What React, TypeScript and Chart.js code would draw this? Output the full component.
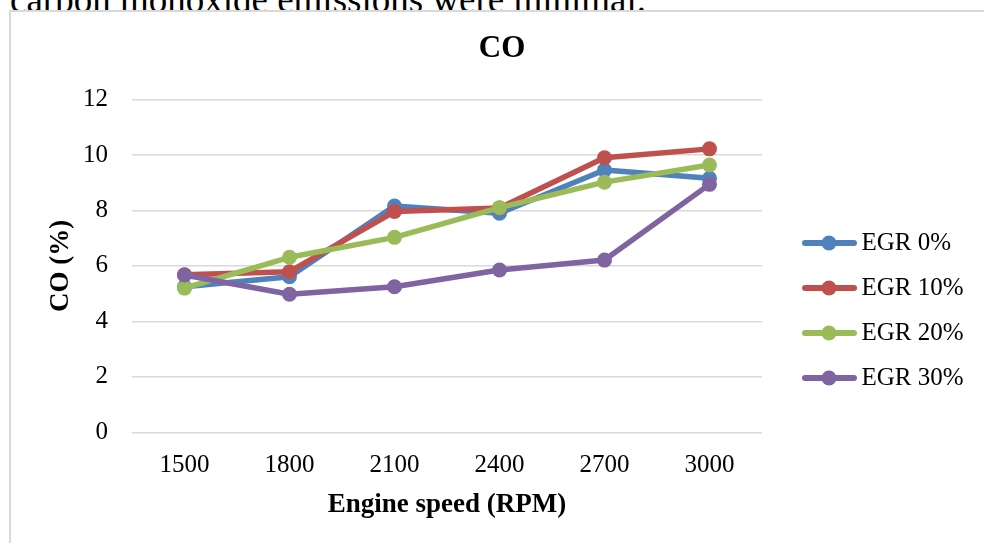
import { useEffect, useRef } from "react";
import { Chart, registerables } from "chart.js";

Chart.register(...registerables);

const categories = ["1500", "1800", "2100", "2400", "2700", "3000"];
const egr0 = [5.25, 5.61, 8.16, 7.9, 9.46, 9.16];
const egr10 = [5.68, 5.79, 7.96, 8.09, 9.9, 10.22];
const egr20 = [5.2, 6.31, 7.03, 8.1, 9.02, 9.64];
const egr30 = [5.67, 4.98, 5.25, 5.85, 6.21, 8.94];
const seriesNames = ["EGR 0%", "EGR 10%", "EGR 20%", "EGR 30%"];
const seriesValues = [egr0, egr10, egr20, egr30];
const seriesColors = ["#4F81BD", "#C0504D", "#9BBB59", "#8064A2"];
const yMin = 0;
const yMax = 12;
const yStep = 2;

const FONT = '"Liberation Serif", "Times New Roman", serif';

const sideLegend = {
  id: "sideLegend",
  afterDraw(chart: any) {
    const ctx = chart.ctx;
    const area = chart.chartArea;
    const x0 = area.right;
    const yStart = area.top + 143.5;
    const gap = 45;
    chart.data.datasets.forEach((ds: any, i: number) => {
      const y = yStart + i * gap;
      ctx.save();
      ctx.strokeStyle = ds.borderColor;
      ctx.lineWidth = 6;
      ctx.lineCap = "round";
      ctx.beginPath();
      ctx.moveTo(x0 + 43, y);
      ctx.lineTo(x0 + 92, y);
      ctx.stroke();
      ctx.fillStyle = ds.borderColor;
      ctx.beginPath();
      ctx.arc(x0 + 67, y, 7.5, 0, Math.PI * 2);
      ctx.fill();
      ctx.fillStyle = "#000";
      ctx.font = `25px ${FONT}`;
      ctx.textAlign = "left";
      ctx.textBaseline = "middle";
      ctx.fillText(ds.label, x0 + 99.5, y);
      ctx.restore();
    });
  },
};

export default function App() {
  const ref = useRef<HTMLCanvasElement | null>(null);

  useEffect(() => {
    if (!ref.current) return;
    Chart.defaults.font.family = FONT;
    Chart.defaults.color = "#000";
    const chart = new Chart(ref.current, {
      type: "line",
      data: {
        labels: categories,
        datasets: seriesNames.map((name, i) => ({
          label: name,
          data: seriesValues[i],
          borderColor: seriesColors[i],
          backgroundColor: seriesColors[i],
          pointBackgroundColor: seriesColors[i],
          pointBorderColor: seriesColors[i],
          pointBorderWidth: 0,
          pointRadius: 7.5,
          borderWidth: 5.5,
          borderJoinStyle: "round",
          tension: 0,
          fill: false,
          order: seriesNames.length - 1 - i,
        })),
      },
      options: {
        responsive: false,
        animation: false,
        layout: { padding: { left: 20, right: 0, top: 0, bottom: 0 } },
        plugins: {
          legend: { display: false },
          tooltip: { enabled: false },
          title: {
            display: true,
            text: "CO",
            font: { size: 31, weight: "bold", family: FONT },
            color: "#000",
            padding: { top: 30.7, bottom: 31.6 },
          },
        },
        scales: {
          x: {
            type: "category",
            offset: true,
            grid: { display: false, drawTicks: false },
            border: { display: false },
            ticks: { font: { size: 25, family: FONT }, color: "#000", padding: 17.7 },
            title: {
              display: true,
              text: "Engine speed (RPM)",
              font: { size: 27, weight: "bold", family: FONT },
              color: "#000",
              padding: { top: 0, bottom: 21.8 },
            },
            afterFit(s: any) {
              s.height = 110.7;
            },
          },
          y: {
            min: yMin,
            max: yMax,
            position: "left",
            grid: { color: "#d9d9d9", lineWidth: 1.5, drawTicks: false },
            border: { display: false },
            ticks: { stepSize: yStep, font: { size: 25, family: FONT }, color: "#000", padding: 24 },
            title: {
              display: true,
              text: "CO (%)",
              font: { size: 27, weight: "bold", family: FONT },
              color: "#000",
              padding: { top: 24.5, bottom: 0 },
            },
            afterFit(s: any) {
              s.width = 112;
            },
          },
          spacer: {
            type: "linear",
            position: "right",
            display: true,
            grid: { display: false, drawTicks: false },
            border: { display: false },
            ticks: { display: false },
            afterFit(s: any) {
              s.width = 222;
            },
          },
        },
      } as any,
      plugins: [sideLegend],
    });
    return () => chart.destroy();
  }, []);

  return (
    <div
      style={{
        position: "fixed",
        left: 0,
        top: 0,
        width: 984,
        height: 543,
        background: "#fff",
        overflow: "hidden",
      }}
    >
      <div
        style={{
          position: "absolute",
          left: 10,
          top: -19,
          fontFamily: FONT,
          fontSize: 37,
          lineHeight: "37px",
          whiteSpace: "nowrap",
          color: "#000",
        }}
      >
        carbon monoxide emissions were minimal.
      </div>
      <div
        style={{
          position: "absolute",
          left: 9,
          top: 10,
          width: 1000,
          height: 560,
          border: "2px solid #d9d9d9",
          boxSizing: "border-box",
        }}
      />
      <canvas
        ref={ref}
        width={984}
        height={543}
        style={{ position: "absolute", left: 0, top: 0, width: 984, height: 543 }}
      />
    </div>
  );
}
